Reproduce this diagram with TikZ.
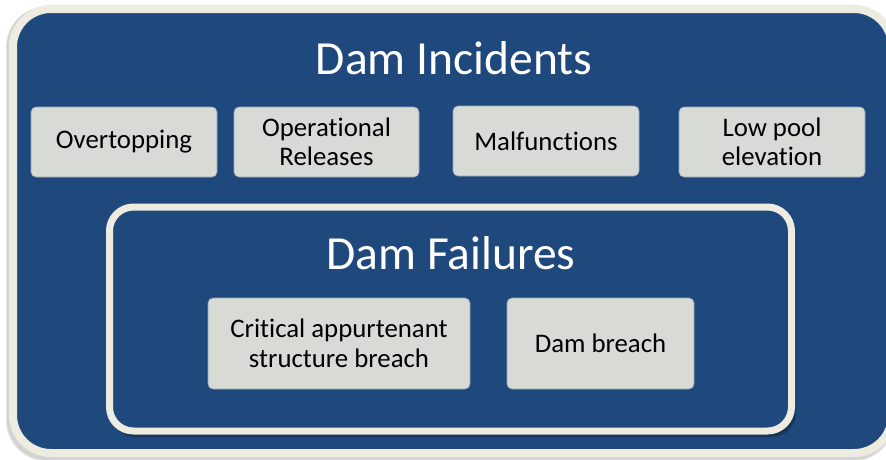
\documentclass[tikz,border=0pt]{standalone}
\usepackage{fontspec}
\setmainfont{Carlito}[Ligatures={NoCommon}]
\definecolor{dblue}{RGB}{31,73,125}
\definecolor{cream}{RGB}{238,236,225}
\definecolor{gboxc}{RGB}{216,218,213}
\definecolor{gedge}{RGB}{150,165,185}
\begin{document}
\begin{tikzpicture}[x=1pt,y=-1pt,
  item/.style={draw=gedge, line width=0.6pt, fill=gboxc, rounded corners=5pt, text=black,
    font=\fontsize{26.8}{29.5}\selectfont, align=center, inner sep=0pt},
  titletext/.style={text=white, font=\fontsize{47.5}{52}\selectfont, inner sep=0pt, anchor=base},
  frame/.style={fill=dblue, draw=cream}
]
\useasboundingbox (0,0) rectangle (886,459);
\begin{scope}
\clip (0,0) rectangle (886,459);
% outer shadow
\fill[black, opacity=0.10, rounded corners=40pt] (6,7) rectangle (894,461);
\fill[black, opacity=0.08, rounded corners=40pt] (7,6) rectangle (893,460);
% outer frame
\draw[frame, line width=8pt, rounded corners=38pt] (13,9) rectangle (892,453);
\node[titletext] (inc) at (454,74) {Dam Incidents};
% top row
\node[item, minimum width=186pt, minimum height=70pt] (ov) at (124,142) {Overtopping};
\node[item, minimum width=185pt, minimum height=70pt] (op) at (326.5,142) {Operational\\Releases};
\node[item, minimum width=186pt, minimum height=70pt] (mf) at (546,141) {Malfunctions};
\node[item, minimum width=186pt, minimum height=70pt] (lp) at (772,142) {Low pool\\elevation};
% inner shadow
\fill[black, opacity=0.25, rounded corners=24pt] (111,209) rectangle (796,437);
\fill[black, opacity=0.20, rounded corners=24pt] (112,210) rectangle (794,435);
% inner frame
\draw[frame, line width=7pt, rounded corners=24pt] (109.5,207) rectangle (791.5,431);
\node[titletext] (fail) at (451,269) {Dam Failures};
\node[item, minimum width=262pt, minimum height=91pt] (cr) at (339,343.5) {Critical appurtenant\\structure breach};
\node[item, minimum width=187pt, minimum height=91pt] (db) at (600.5,343.5) {Dam breach};
\end{scope}
\end{tikzpicture}
\end{document}
